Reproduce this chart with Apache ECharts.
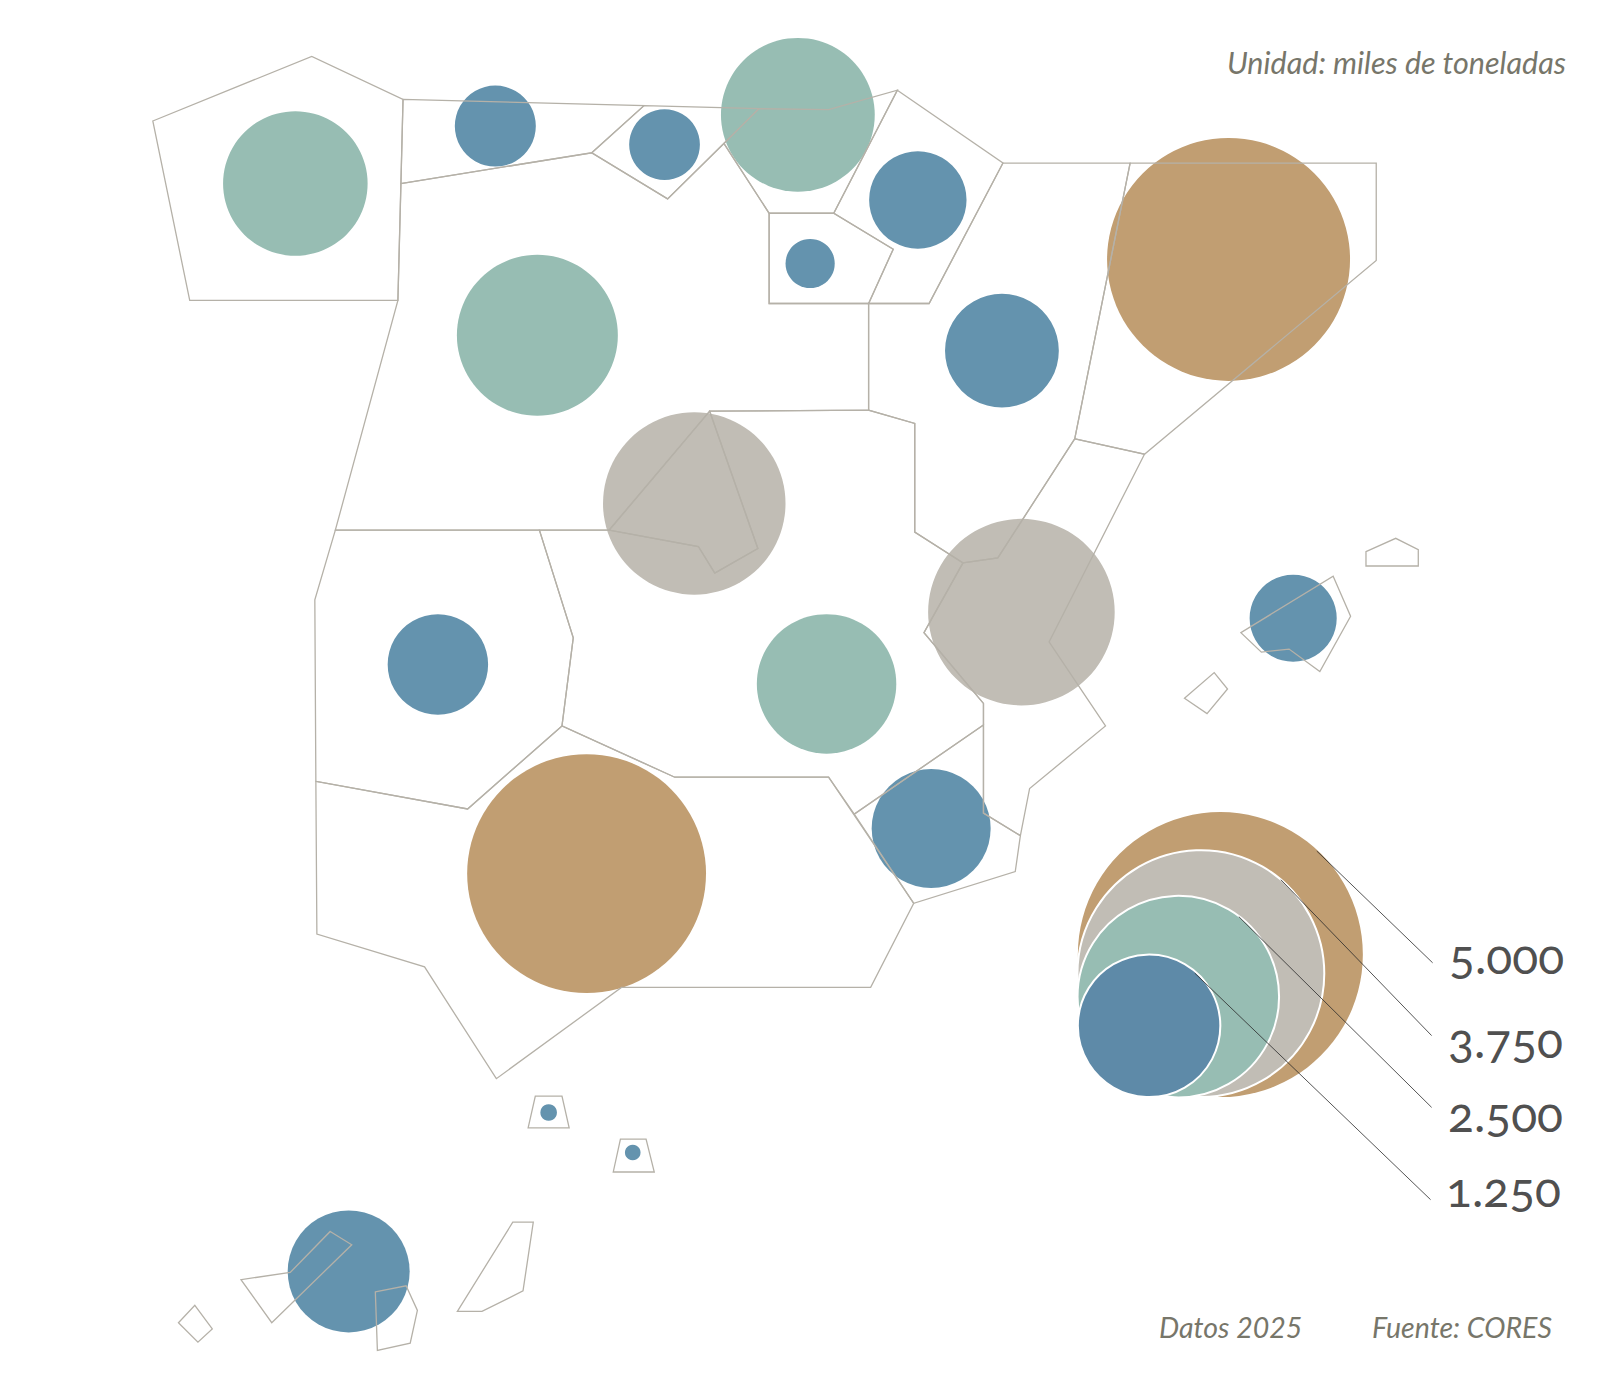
<!DOCTYPE html>
<html><head><meta charset="utf-8">
<style>html,body{margin:0;padding:0;background:#fff}#c{width:1608px;height:1375px;font-variant-numeric:oldstyle-nums}
#c text{font-variant-numeric:oldstyle-nums}</style>
<script src="https://cdn.jsdelivr.net/npm/echarts@6/dist/echarts.min.js"></script>
</head><body><div id="c"></div>
<script>
// Regions and their values (thousand tonnes), read from circle areas
const regions = ['Galicia','Asturias','Cantabria','País Vasco','Navarra','La Rioja','Aragón','Cataluña','Castilla y León','Madrid','Castilla-La Mancha','C. Valenciana','Extremadura','Andalucía','Murcia','Baleares','Canarias','Ceuta','Melilla'];
const values  = [1286,404,308,1456,584,149,797,3634,1595,2050,1197,2143,621,3512,871,467,916,17,15];
const classes = ['green','blue','blue','green','blue','blue','blue','brown','green','grey','green','grey','blue','brown','blue','blue','blue','blue','blue'];
const centerX = [288,483,648,778,895,790,977,1198,524,677,806,996,427,572,908,1261,340,535,617];
const centerY = [179,123,141,112,195,257,342,253,327,491,667,597,648,852,808,603,1240,1085,1124];

// Map cells (cartogram polygons, in map units)
const galicia = [[149,118],[304,55],[393,97],[388,293],[185,293]];
const asturias = [[393,97],[628,103],[577,149],[391,179]];
const cantabria = [[628,103],[740,106],[651,194],[577,149]];
const paisVasco = [[740,106],[808,107],[875,88],[813,208],[750,208],[706,140]];
const navarra = [[875,88],[978,159],[906,296],[847,296],[871,243],[813,208]];
const rioja = [[750,208],[813,208],[871,243],[847,296],[750,296]];
const aragon = [[978,159],[1102,159],[1048,428],[973,544],[939,549],[892,519],[892,413],[847,400],[847,296],[906,296]];
const cataluna = [[1102,159],[1342,159],[1342,254],[1116,443],[1048,428]];
const castillaLeon = [[388,293],[391,179],[577,149],[651,194],[706,140],[750,208],[750,296],[847,296],[847,400],[692,401],[594,517],[327,517]];
const madrid = [[692,401],[739,535],[697,559],[681,533],[594,517]];
const castillaMancha = [[692,401],[847,400],[892,413],[892,519],[939,549],[901,617],[959,686],[959,707],[833,794],[808,758],[658,758],[548,708],[559,622],[526,517],[594,517],[681,533],[697,559],[739,535]];
const valencia = [[939,549],[973,544],[1048,428],[1116,443],[1023,626],[1078,708],[1004,769],[995,815],[959,793],[959,686],[901,617]];
const murcia = [[959,707],[959,793],[995,815],[990,850],[891,881],[833,794]];
const extremadura = [[327,517],[526,517],[559,622],[548,708],[456,789],[308,762],[307,585]];
const andalucia = [[308,762],[456,789],[548,708],[658,758],[808,758],[891,881],[849,963],[606,963],[484,1052],[414,943],[309,911]];
const mallorca = [[1300,562],[1317,601],[1287,655],[1257,633],[1230,636],[1210,617]];
const menorca = [[1332,538],[1361,525],[1383,536],[1383,552],[1332,552]];
const ibiza = [[1155,681],[1184,656],[1197,672],[1177,696]];
const ceuta = [[522,1069],[548,1069],[555,1100],[515,1100]];
const melilla = [[605,1111],[630,1111],[638,1143],[598,1143]];
const tenerife = [[322,1201],[343,1214],[265,1290],[235,1248],[283,1241]];
const granCanaria = [[366,1260],[396,1254],[407,1278],[400,1310],[368,1317]];
const fuerteventura = [[500,1192],[520,1192],[510,1259],[470,1279],[446,1279]];
const hierro = [[190,1273],[207,1296],[193,1309],[174,1290]];
const cells = [galicia,asturias,cantabria,paisVasco,navarra,rioja,aragon,cataluna,castillaLeon,madrid,castillaMancha,valencia,murcia,extremadura,andalucia,mallorca,menorca,ibiza,ceuta,melilla,tenerife,granCanaria,fuerteventura,hierro];

// Size legend
const legendValues = [5000,3750,2500,1250];
const legendLabels = ['5.000','3.750','2.500','1.250'];
const legendX = [1190,1171,1149,1120.5];
const legendY = [931,949.5,972,1000.5];
const legendColors = ['#c19e72','#c1bdb5','#97bdb3','#5e8aa8'];
const labelX = [1413,1412,1412,1410];
const labelY = [932,1014,1086,1159];
const leaderStart = [[1284,830],[1249,858],[1208,894],[1165,949]];
const leaderEnd = [[1397,939],[1396,1010],[1396,1080],[1395,1170]];

const colors = {blue:'#6493ae',green:'#97bdb3',grey:'#c1bdb5',brown:'#c19e72'};
const DIAM_5000 = 285; // px diameter for 5000
const size = v => DIAM_5000*Math.sqrt(v/5000);
const font = 'Lato, "Open Sans", sans-serif';

const chart = echarts.init(document.getElementById('c'),null,{renderer:'svg'});
chart.setOption({
  animation:false,
  backgroundColor:'#fff',
  grid:{left:0,right:0,top:0,bottom:0},
  xAxis:{type:'value',min:0,max:1568,show:false},
  yAxis:{type:'value',min:0,max:1341,inverse:true,show:false},
  graphic:[
    {type:'text',right:42,top:47,style:{text:'Unidad: miles de toneladas',font:'italic 30.5px '+font,fill:'#77766a',textAlign:'right'}},
    {type:'text',left:1159,top:1312,style:{text:'Datos 2025',font:'italic 28.5px '+font,fill:'#77766a'}},
    {type:'text',left:1372,top:1312,style:{text:'Fuente: CORES',font:'italic 28.5px '+font,fill:'#77766a'}}
  ],
  series:[
    {type:'scatter',z:2,silent:true,
     data:regions.map((n,i)=>({name:n,value:[centerX[i],centerY[i],values[i]],itemStyle:{color:colors[classes[i]],opacity:1}})),
     symbolSize:d=>size(d[2]),clip:false},
    {type:'custom',z:3,silent:true,clip:false,coordinateSystem:'cartesian2d',
     data:cells.map((c,i)=>[i]),
     renderItem:(p,api)=>({type:'polygon',shape:{points:cells[api.value(0)].map(q=>api.coord(q))},
        style:{fill:'none',stroke:'#b5b1a8',lineWidth:1.3,blend:'multiply'}})},
    {type:'scatter',z:4,silent:true,clip:false,
     data:legendValues.map((v,i)=>({value:[legendX[i],legendY[i],v],itemStyle:{color:legendColors[i],borderColor:'#fff',borderWidth:i?2:0,opacity:1}})),
     symbolSize:d=>size(d[2])},
    {type:'custom',z:5,silent:true,clip:false,coordinateSystem:'cartesian2d',
     data:leaderStart.map((c,i)=>[i]),
     renderItem:(p,api)=>{const i=api.value(0),a=api.coord(leaderStart[i]),b=api.coord(leaderEnd[i]);
       return {type:'line',shape:{x1:a[0],y1:a[1],x2:b[0],y2:b[1]},style:{stroke:'#2a2a2a',lineWidth:0.8}};}},
    {type:'scatter',z:6,silent:true,clip:false,symbolSize:0,
     data:legendLabels.map((t,i)=>({value:[labelX[i],labelY[i]],label:{show:true,formatter:t,position:'right',distance:0,fontFamily:'Lato, "Open Sans", sans-serif',fontSize:48,color:'#1f1f1f'}}))}
  ]
});
</script></body></html>
